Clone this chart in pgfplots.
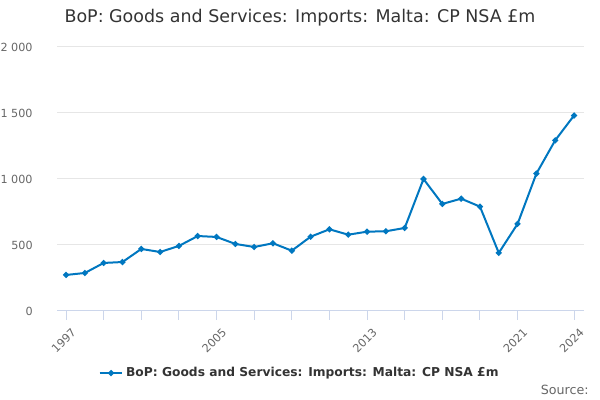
\documentclass[border=0pt]{standalone}
\usepackage{pgfplots}
\pgfplotsset{compat=1.18}
\usepackage{fontspec}
\setmainfont{DejaVu Sans}
\definecolor{linec}{RGB}{0,119,192}
\definecolor{gridc}{RGB}{230,230,230}
\definecolor{axisc}{RGB}{204,214,235}
\definecolor{tickt}{RGB}{102,102,102}
\definecolor{titlec}{RGB}{51,51,51}
\begin{document}
\begin{tikzpicture}
\path[use as bounding box] (0,0) rectangle (450pt,300pt);
\begin{axis}[
  at={(42.75pt,66.75pt)}, anchor=south west,
  scale only axis, width=395.25pt, height=198pt,
  xmin=1996.52, xmax=2024.53, ymin=0, ymax=2000,
  axis line style={draw=none},
  axis x line*=bottom, axis y line*=left,
  ytick={0,500,1000,1500,2000},
  yticklabels={0,500,1 000,1 500,2 000},
  ymajorgrids=true, xmajorgrids=false, xminorgrids=false,
  major grid style={draw=gridc, line width=0.75pt},
  y tick style={draw=none},
  yticklabel style={font=\fontsize{8.4}{10}\selectfont, text=tickt, anchor=east, xshift=-8pt},
  xtick={1997,2005,2013,2021,2024},
  xticklabels={1997,2005,2013,2021,2024},
  minor xtick={1999,2001,2003,2007,2009,2011,2015,2017,2019},
  x tick style={draw=axisc, line width=0.75pt},
  tick align=outside, major tick length=6.75pt, minor tick length=6.75pt,
  xticklabel style={font=\fontsize{8.4}{10}\selectfont, text=tickt, rotate=45, anchor=north east, xshift=2pt, yshift=-3pt},
  legend style={at={(0.461,-0.235)}, anchor=center, draw=none, fill=none,
    font=\bfseries\fontsize{9.2}{11}\selectfont, text=titlec},
  legend cell align=left,
  clip=false,
]
\draw[axisc, line width=0.75pt] (axis cs:1996.52,0) -- (axis cs:2024.53,0);
\addplot[linec, line width=1.5pt, mark=*, mark size=1.4pt, mark options={linec, fill=linec}] coordinates {
(1997,273) (1998,288) (1999,364) (2000,371) (2001,470) (2002,447) (2003,493)
(2004,568) (2005,561) (2006,508) (2007,485) (2008,513) (2009,457) (2010,563)
(2011,619) (2012,578) (2013,601) (2014,604) (2015,629) (2016,1000) (2017,811)
(2018,851) (2019,791) (2020,440) (2021,660) (2022,1041) (2023,1293) (2024,1481)
};
\addlegendentry{BoP: Goods and Services: Imports: Malta: CP NSA £m}
\end{axis}
\node[font=\fontsize{13.1}{15}\selectfont, text=titlec] at (225pt,286.5pt) {BoP: Goods and Services: Imports: Malta: CP NSA £m};
\node[font=\fontsize{9.5}{11}\selectfont, text=tickt, anchor=east] at (445pt,7.5pt) {Source:};
\end{tikzpicture}
\end{document}
